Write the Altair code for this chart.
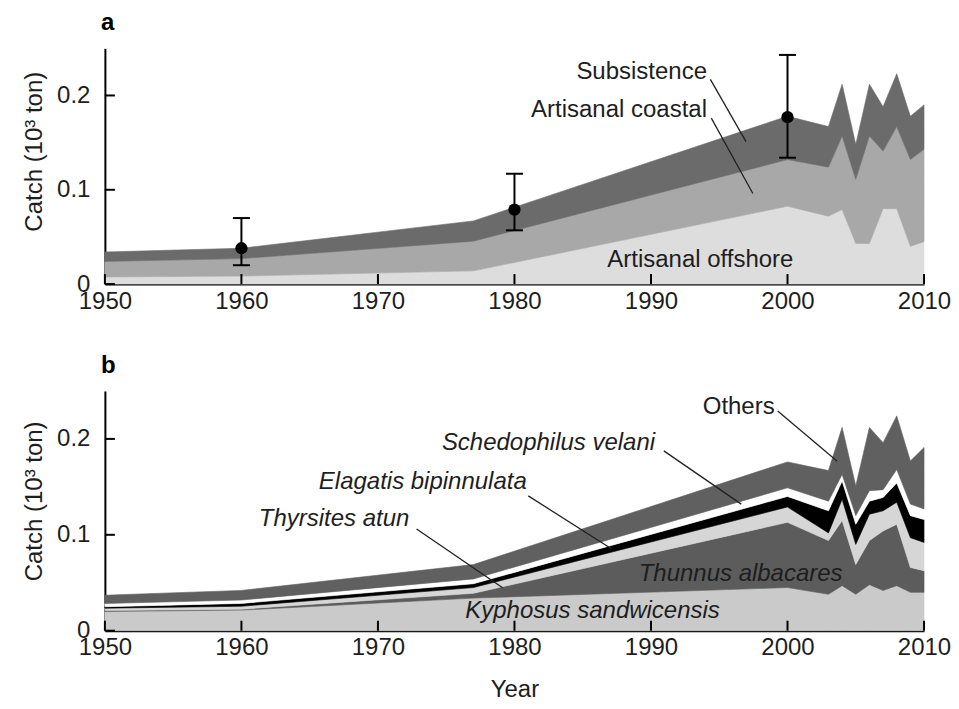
import altair as alt
import pandas as pd

# ---------------- data ----------------
years = [1950, 1960, 1977, 2000, 2003, 2004, 2005, 2006, 2007, 2008, 2009, 2010]

# Panel a: catch by sector (10^3 t), stacked bottom -> top
a_names = ["Artisanal offshore", "Artisanal coastal", "Subsistence"]
offshore = [0.0075, 0.0085, 0.014, 0.0825, 0.072, 0.079, 0.043, 0.043, 0.080, 0.080, 0.040, 0.045]
coastal = [0.0165, 0.0185, 0.0315, 0.0495, 0.052, 0.078, 0.068, 0.114, 0.061, 0.087, 0.092, 0.098]
subsistence = [0.010, 0.011, 0.0215, 0.046, 0.043, 0.055, 0.037, 0.055, 0.047, 0.056, 0.046, 0.047]
a_colors = ["#dddddd", "#a8a8a8", "#6b6b6b"]

# error bars (panel a)
eb_years = [1960, 1980, 2000]
eb_mean = [0.038, 0.079, 0.177]
eb_low = [0.020, 0.057, 0.134]
eb_high = [0.070, 0.117, 0.243]

# Panel b: catch by taxon, stacked bottom -> top
b_names = ["Kyphosus sandwicensis", "Thunnus albacares", "Thyrsites atun",
           "Elagatis bipinnulata", "Schedophilus velani", "Others"]
kyphosus = [0.020, 0.0215, 0.034, 0.045, 0.038, 0.047, 0.038, 0.048, 0.042, 0.047, 0.040, 0.040]
thunnus = [0.001, 0.001, 0.005, 0.068, 0.056, 0.068, 0.031, 0.046, 0.062, 0.064, 0.026, 0.0225]
thyrsites = [0.0025, 0.003, 0.006, 0.016, 0.008, 0.022, 0.021, 0.0275, 0.021, 0.023, 0.031, 0.0295]
elagatis = [0.0015, 0.003, 0.004, 0.011, 0.023, 0.019, 0.021, 0.0135, 0.014, 0.020, 0.023, 0.024]
schedophilus = [0.0034, 0.0035, 0.005, 0.009, 0.010, 0.007, 0.009, 0.011, 0.008, 0.014, 0.012, 0.011]
others = [0.0086, 0.010, 0.015, 0.027, 0.032, 0.049, 0.031, 0.066, 0.049, 0.056, 0.045, 0.064]
b_colors = ["#cacaca", "#5c5c5c", "#d6d6d6", "#000000", "#ffffff", "#606060"]

# annotations: label, year, value, align, italic
a_labels = ["Subsistence", "Artisanal coastal", "Artisanal offshore"]
a_lab_x = [1994.1, 1994.1, 1986.8]
a_lab_y = [0.218, 0.1767, 0.018]
a_lab_align = ["right", "right", "left"]
a_lead_x = [1994.35, 1994.42]
a_lead_y = [0.217, 0.176]
a_lead_x2 = [1996.96, 1997.46]
a_lead_y2 = [0.151, 0.096]

b_labels = ["Others", "Schedophilus velani", "Elagatis bipinnulata", "Thyrsites atun",
            "Thunnus albacares", "Kyphosus sandwicensis"]
b_lab_x = [1999.06, 1990.3, 1980.9, 1972.3, 1989.1, 1976.4]
b_lab_y = [0.226, 0.1885, 0.148, 0.109, 0.052, 0.0135]
b_lab_align = ["right", "right", "right", "right", "left", "left"]
b_lab_italic = [False, True, True, True, True, True]
b_lead_x = [1999.28, 1990.94, 1981.01, 1972.83]
b_lead_y = [0.229, 0.1875, 0.1406, 0.106]
b_lead_x2 = [2003.62, 1996.61, 1987.10, 1979.13]
b_lead_y2 = [0.177, 0.132, 0.0854, 0.0448]

xticks = [1950, 1960, 1970, 1980, 1990, 2000, 2010]
yticks = [0, 0.1, 0.2]

# ---------------- helpers ----------------
FONT = "Liberation Sans"
W = 820
TXT = "#1e1e1e"


def long_df(names, arrays):
    rows = []
    for i, (n, arr) in enumerate(zip(names, arrays)):
        for yr, v in zip(years, arr):
            rows.append({"series": n, "year": yr, "catch": v, "order": i})
    return pd.DataFrame(rows)


def make_panel(names, arrays, colors, H, title, xtitle, ytitle_y, labels, lab_x, lab_y,
               lab_align, lab_italic, lead_x, lead_y, lead_x2, lead_y2, errbars=None):
    xaxis = alt.Axis(values=xticks, format="d", title=xtitle, labelFlush=False, ticks=False,
                     grid=False, domainColor="black", domainWidth=2, labelFont=FONT,
                     labelFontSize=24, labelColor=TXT, labelPadding=5, titleFont=FONT,
                     titleFontSize=24, titleFontWeight="normal", titleColor=TXT,
                     titlePadding=18)
    yaxis = alt.Axis(values=yticks, title="Catch (10³ ton)", ticks=False, grid=False,
                     domainColor="black", domainWidth=2, labelFont=FONT, labelFontSize=24,
                     labelColor=TXT, labelPadding=15,
                     labelExpr="datum.value == 0 ? '0' : format(datum.value, '.1f')",
                     titleFont=FONT, titleFontSize=24, titleFontWeight="normal",
                     titleColor=TXT, titlePadding=10, titleY=ytitle_y)
    xs = alt.Scale(domain=[1950, 2010], nice=False, zero=False)
    ys = alt.Scale(domain=[0, 0.25], nice=False)

    def X(f):
        return alt.X(f, type="quantitative", scale=xs, axis=xaxis)

    def Y(f, stack=None):
        if stack:
            return alt.Y(f, type="quantitative", scale=ys, axis=yaxis, stack=stack)
        return alt.Y(f, type="quantitative", scale=ys, axis=yaxis)

    df = long_df(names, arrays)
    cscale = alt.Scale(domain=names, range=colors)
    area = alt.Chart(df).mark_area(interpolate="linear", strokeWidth=0.6).encode(
        x=X("year"),
        y=Y("catch", stack="zero"),
        color=alt.Color("series:N", scale=cscale, legend=None),
        stroke=alt.Stroke("series:N", scale=cscale, legend=None),
        order=alt.Order("order:Q"),
    )

    layers = [area]

    xt = alt.Chart(pd.DataFrame({"year": xticks})).mark_rule(color="black", strokeWidth=2).encode(
        x=X("year"), y=alt.value(H), y2=alt.value(H - 10))
    yt = alt.Chart(pd.DataFrame({"catch": yticks})).mark_rule(color="black", strokeWidth=2).encode(
        y=Y("catch"), x=alt.value(0), x2=alt.value(10))
    layers += [xt, yt]

    lead = pd.DataFrame({"year": lead_x, "catch": lead_y, "year2": lead_x2, "catch2": lead_y2})
    layers.append(alt.Chart(lead).mark_rule(color="#222222", strokeWidth=1.3).encode(
        x=X("year"), y=Y("catch"), x2="year2", y2="catch2"))

    for lab, lx, ly, la, li in zip(labels, lab_x, lab_y, lab_align, lab_italic):
        tdf = pd.DataFrame({"year": [lx], "catch": [ly], "label": [lab]})
        layers.append(alt.Chart(tdf).mark_text(
            align=la, baseline="alphabetic", font=FONT, fontSize=24, color=TXT,
            fontStyle="italic" if li else "normal").encode(
            x=X("year"), y=Y("catch"), text="label:N"))

    if errbars is not None:
        ey, em, el, eh = errbars
        edf = pd.DataFrame({"year": ey, "mean": em, "lo": el, "hi": eh})
        layers.append(alt.Chart(edf).mark_rule(color="black", strokeWidth=2).encode(
            x=X("year"), y=Y("lo"), y2="hi"))
        caps = pd.DataFrame({"year": ey + ey, "cap": el + eh})
        layers.append(alt.Chart(caps).mark_tick(orient="horizontal", size=17, thickness=2,
                                                color="black", opacity=1).encode(
            x=X("year"), y=Y("cap")))
        layers.append(alt.Chart(edf).mark_circle(size=150, color="black", opacity=1).encode(
            x=X("year"), y=Y("mean")))

    return alt.layer(*layers).properties(
        width=W, height=H,
        title=alt.TitleParams(title, anchor="start", frame="group", font=FONT, fontSize=24,
                              fontWeight="bold", color="black", baseline="alphabetic",
                              offset=-6, dx=-4),
    )


panel_a = make_panel(a_names, [offshore, coastal, subsistence], a_colors, 236, "a", None, 103,
                     a_labels, a_lab_x, a_lab_y, a_lab_align, [False, False, False],
                     a_lead_x, a_lead_y, a_lead_x2, a_lead_y2,
                     errbars=(eb_years, eb_mean, eb_low, eb_high))

panel_b = make_panel(b_names, [kyphosus, thunnus, thyrsites, elagatis, schedophilus, others],
                     b_colors, 240, "b", "Year", 110,
                     b_labels, b_lab_x, b_lab_y, b_lab_align, b_lab_italic,
                     b_lead_x, b_lead_y, b_lead_x2, b_lead_y2)

chart = alt.vconcat(panel_a, panel_b, spacing=41).resolve_scale(
    color="independent", stroke="independent"
).properties(
    padding={"left": 14, "top": 3, "right": 0, "bottom": 0}
).configure_view(stroke=None)

chart.save("out.html", embed_options={"renderer": "svg", "actions": False})
